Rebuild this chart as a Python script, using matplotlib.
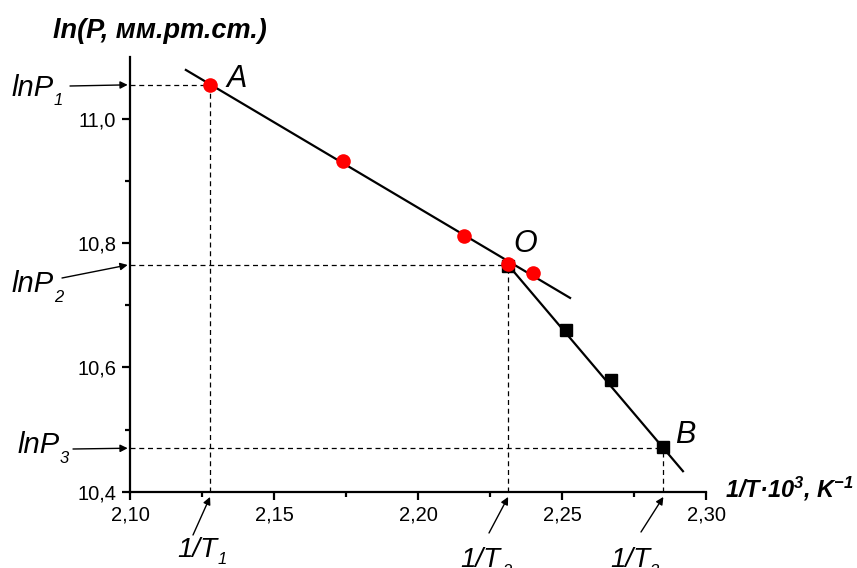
import matplotlib
matplotlib.use("Agg")
import matplotlib.pyplot as plt

plt.rcParams['font.family'] = ['Liberation Sans', 'DejaVu Sans']
plt.rcParams['mathtext.fontset'] = 'custom'
plt.rcParams['mathtext.rm'] = 'Liberation Sans'
plt.rcParams['mathtext.it'] = 'Liberation Sans:italic'
plt.rcParams['mathtext.bf'] = 'Liberation Sans:bold'
plt.rcParams['mathtext.bfit'] = 'Liberation Sans:italic:bold'

# red points (first branch) and black squares (second branch)
x_red = [2.1278, 2.174, 2.216, 2.2313, 2.2399]
y_red = [11.055, 10.932, 10.8116, 10.767, 10.752]
x_blk = [2.2313, 2.2514, 2.267, 2.2851]
y_blk = [10.763, 10.660, 10.580, 10.472]

# fitted straight lines
line1_x = [2.1194, 2.2528]
line1_y = [11.079, 10.712]
line2_x = [2.2313, 2.292]
line2_y = [10.765, 10.433]

# characteristic points A, O, B
invT = [2.1278, 2.2313, 2.2852]
lnP = [11.055, 10.765, 10.470]

xticks = [2.10, 2.15, 2.20, 2.25, 2.30]
xtick_labels = ['2,10', '2,15', '2,20', '2,25', '2,30']
yticks = [10.4, 10.6, 10.8, 11.0]
ytick_labels = ['10,4', '10,6', '10,8', '11,0']

W, H = 857, 568
fig = plt.figure(figsize=(W / 100, H / 100), dpi=100)
ax = fig.add_axes([130 / W, 1 - 491.7 / H, 576 / W, 434.8 / H])
ax.set_xlim(2.10, 2.30)
ax.set_ylim(10.4, 11.1)

# dashed guide lines
for xv, yv in zip(invT, lnP):
    ax.plot([2.10, xv], [yv, yv], color='k', lw=0.9, ls=(0, (4, 3)), zorder=1)
    ax.plot([xv, xv], [10.4, yv], color='k', lw=0.9, ls=(0, (4, 3)), zorder=1)

ax.plot(line1_x, line1_y, color='k', lw=1.6, zorder=2)
ax.plot(line2_x, line2_y, color='k', lw=1.6, zorder=2)
ax.plot(x_blk, y_blk, 's', color='k', ms=8.5, zorder=3)
ax.plot(x_red, y_red, 'o', color='red', mec='none', ms=10.5, zorder=4)

ax.spines['top'].set_visible(False)
ax.spines['right'].set_visible(False)
for s in ['left', 'bottom']:
    ax.spines[s].set_linewidth(1.6)
ax.set_xticks(xticks)
ax.set_xticklabels(xtick_labels)
ax.set_yticks(yticks)
ax.set_yticklabels(ytick_labels)
ax.set_xticks([2.125, 2.175, 2.225, 2.275], minor=True)
ax.set_yticks([10.5, 10.7, 10.9], minor=True)
ax.tick_params(which='major', direction='out', length=6, width=1.6, labelsize=14.5, pad=4)
ax.tick_params(which='minor', direction='out', length=3.5, width=1.6)


def ftext(x, y, s, **kw):
    # x, y in pixels from the top-left corner, y is the baseline
    fig.text(x / W, 1 - y / H, s, va='baseline', **kw)


# point letters
ftext(226, 87, 'A', fontsize=22, style='italic')
ftext(513, 252, 'O', fontsize=22, style='italic')
ftext(675, 443, 'B', fontsize=22, style='italic')

# axis titles
ftext(53, 38, 'ln(P, мм.рт.ст.)', fontsize=19.5, weight='bold', style='italic')
ftext(725, 497, r'1/T·10$^{\mathbfit{3}}$, K$^{\mathbfit{-1}}$',
      fontsize=17, weight='bold', style='italic')

# labels with arrows
arrow = dict(arrowstyle='-|>', color='k', lw=1.0, mutation_scale=11, shrinkA=0, shrinkB=0)
ytr = ax.get_yaxis_transform()
xtr = ax.get_xaxis_transform()

starts_y = [(70, 86), (62, 278), (73, 449)]
main_y = [(12, 96), (12, 292), (18, 453)]
sub_y = [(54, 105), (54, 302), (60, 463)]
for i in range(3):
    ax.annotate('', xy=(-0.004, lnP[i]), xycoords=ytr,
                xytext=(starts_y[i][0], H - starts_y[i][1]),
                textcoords='figure pixels', arrowprops=arrow, annotation_clip=False)
    ftext(main_y[i][0], main_y[i][1], 'lnP', fontsize=21, style='italic')
    ftext(sub_y[i][0], sub_y[i][1], str(i + 1), fontsize=12, style='italic')

starts_x = [(193, 535), (489, 533), (641, 532)]
main_x = [(177, 557), (460, 567), (610, 567)]
sub_x = [(218, 564), (502, 576), (650, 576)]
for i in range(3):
    ax.annotate('', xy=(invT[i], -0.012), xycoords=xtr,
                xytext=(starts_x[i][0], H - starts_x[i][1]),
                textcoords='figure pixels', arrowprops=arrow, annotation_clip=False)
    ftext(main_x[i][0], main_x[i][1], '1/T', fontsize=20, style='italic')
    ftext(sub_x[i][0], sub_x[i][1], str(i + 1), fontsize=12, style='italic')

fig.savefig('out.png', dpi=100)
